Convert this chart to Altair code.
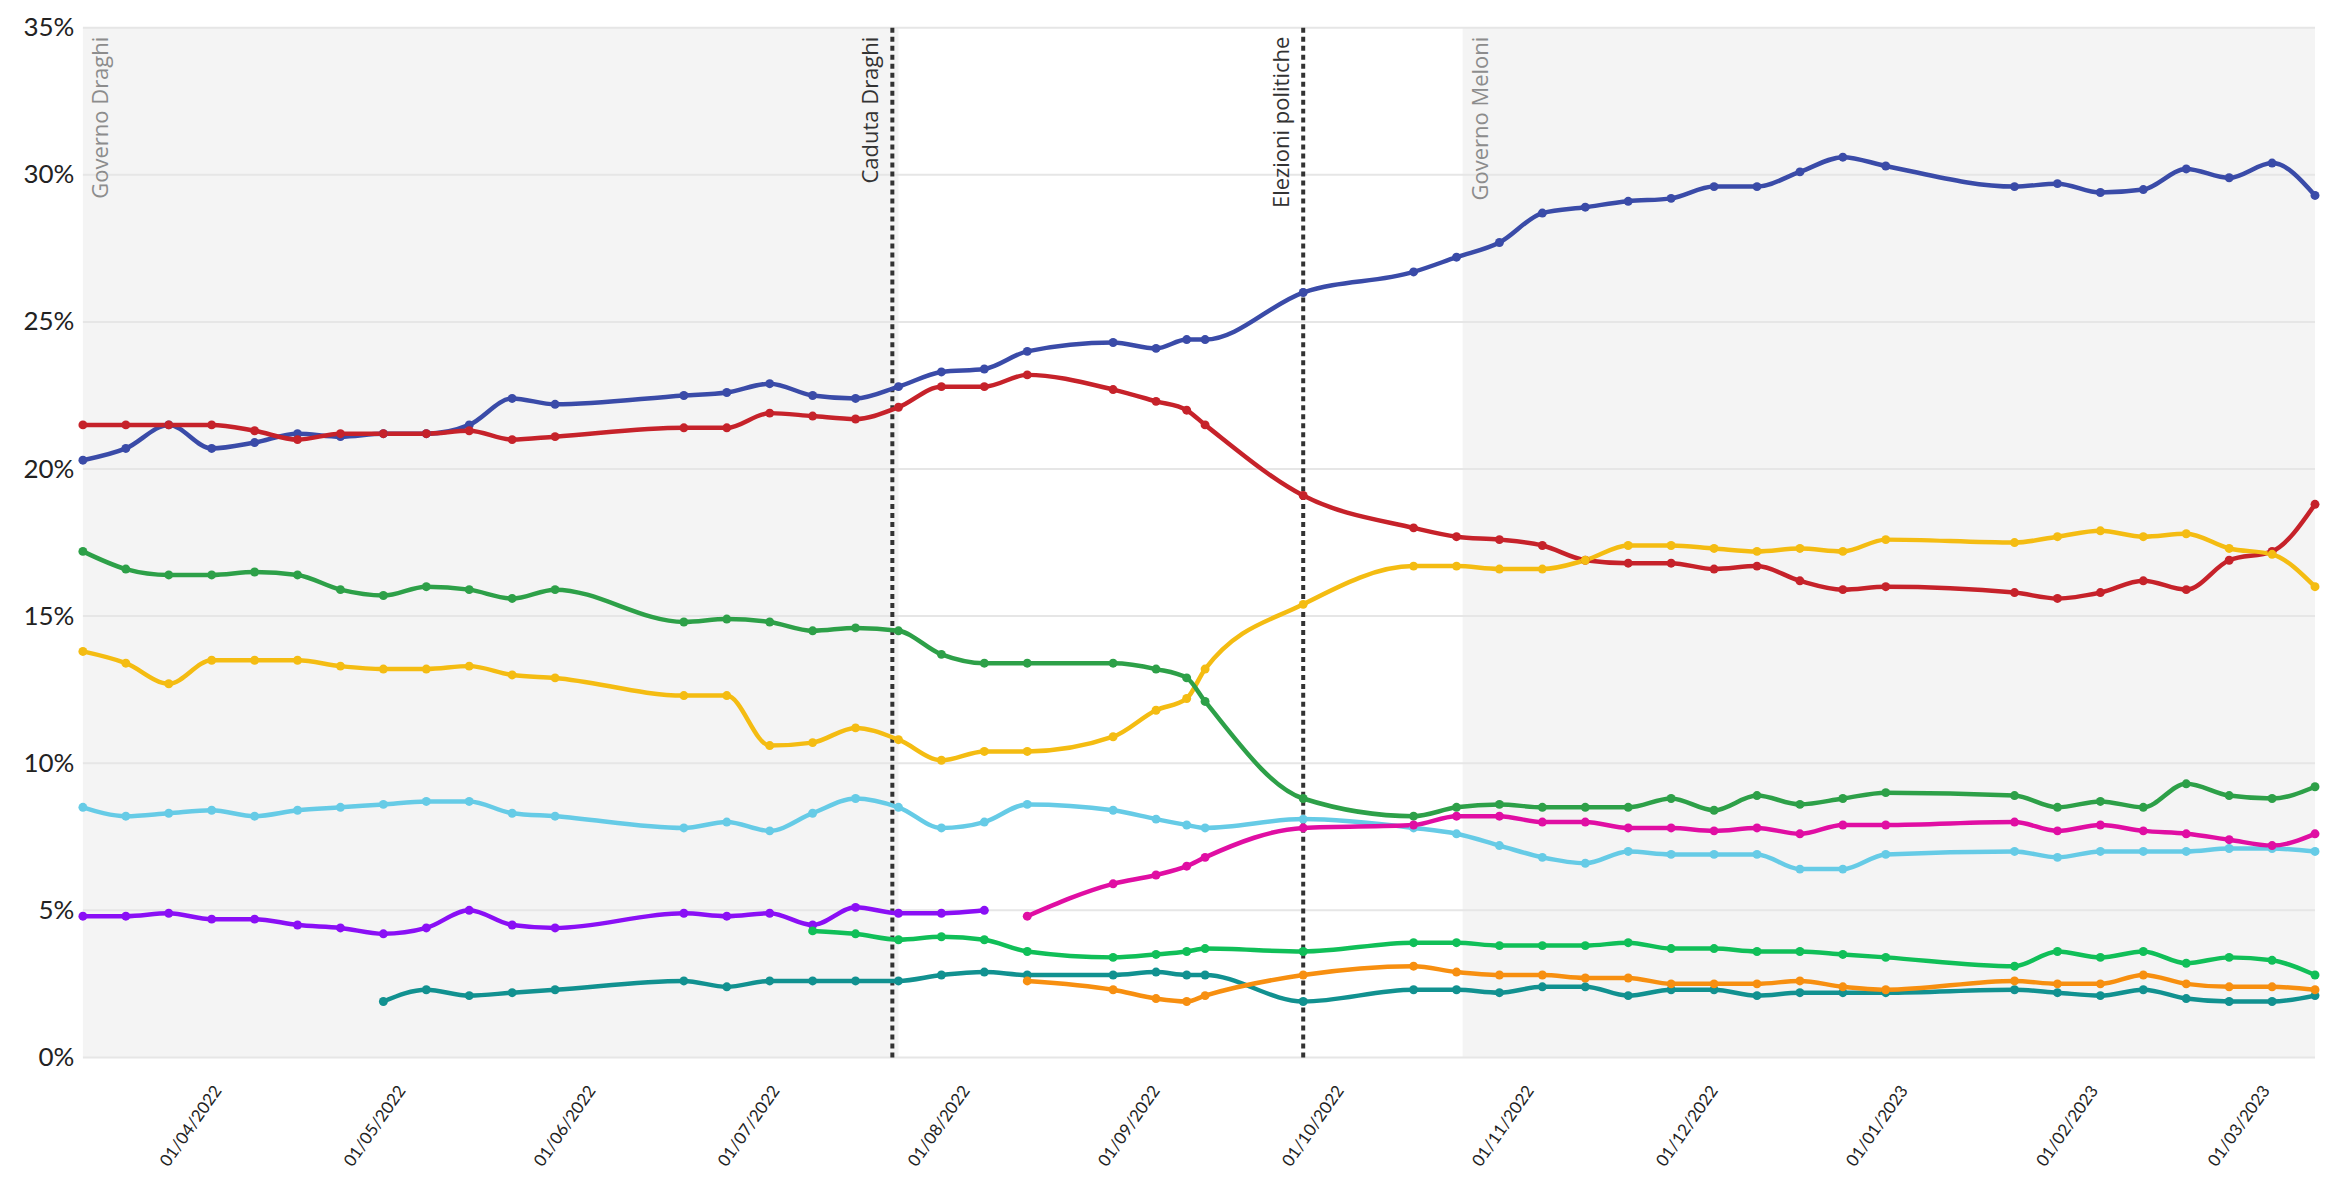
import altair as alt
import pandas as pd

# ---------------- data ----------------
dates = ["2022-03-10", "2022-03-17", "2022-03-24", "2022-03-31", "2022-04-07", "2022-04-14",
         "2022-04-21", "2022-04-28", "2022-05-05", "2022-05-12", "2022-05-19", "2022-05-26",
         "2022-06-16", "2022-06-23", "2022-06-30", "2022-07-07", "2022-07-14", "2022-07-21",
         "2022-07-28", "2022-08-04", "2022-08-11", "2022-08-25", "2022-09-01", "2022-09-06",
         "2022-09-09", "2022-09-25", "2022-10-13", "2022-10-20", "2022-10-27", "2022-11-03",
         "2022-11-10", "2022-11-17", "2022-11-24", "2022-12-01", "2022-12-08", "2022-12-15",
         "2022-12-22", "2022-12-29", "2023-01-19", "2023-01-26", "2023-02-02", "2023-02-09",
         "2023-02-16", "2023-02-23", "2023-03-02", "2023-03-09"]

fdi = [20.3, 20.7, 21.5, 20.7, 20.9, 21.2, 21.1, 21.2, 21.2, 21.5, 22.4, 22.2,
       22.5, 22.6, 22.9, 22.5, 22.4, 22.8, 23.3, 23.4, 24.0, 24.3, 24.1, 24.4,
       24.4, 26.0, 26.7, 27.2, 27.7, 28.7, 28.9, 29.1, 29.2, 29.6, 29.6, 30.1,
       30.6, 30.3, 29.6, 29.7, 29.4, 29.5, 30.2, 29.9, 30.4, 29.3]
pd_ = [21.5, 21.5, 21.5, 21.5, 21.3, 21.0, 21.2, 21.2, 21.2, 21.3, 21.0, 21.1,
       21.4, 21.4, 21.9, 21.8, 21.7, 22.1, 22.8, 22.8, 23.2, 22.7, 22.3, 22.0,
       21.5, 19.1, 18.0, 17.7, 17.6, 17.4, 16.9, 16.8, 16.8, 16.6, 16.7, 16.2,
       15.9, 16.0, 15.8, 15.6, 15.8, 16.2, 15.9, 16.9, 17.2, 18.8]
m5s = [13.8, 13.4, 12.7, 13.5, 13.5, 13.5, 13.3, 13.2, 13.2, 13.3, 13.0, 12.9,
       12.3, 12.3, 10.6, 10.7, 11.2, 10.8, 10.1, 10.4, 10.4, 10.9, 11.8, 12.2,
       13.2, 15.4, 16.7, 16.7, 16.6, 16.6, 16.9, 17.4, 17.4, 17.3, 17.2, 17.3,
       17.2, 17.6, 17.5, 17.7, 17.9, 17.7, 17.8, 17.3, 17.1, 16.0]
lega = [17.2, 16.6, 16.4, 16.4, 16.5, 16.4, 15.9, 15.7, 16.0, 15.9, 15.6, 15.9,
        14.8, 14.9, 14.8, 14.5, 14.6, 14.5, 13.7, 13.4, 13.4, 13.4, 13.2, 12.9,
        12.1, 8.8, 8.2, 8.5, 8.6, 8.5, 8.5, 8.5, 8.8, 8.4, 8.9, 8.6,
        8.8, 9.0, 8.9, 8.5, 8.7, 8.5, 9.3, 8.9, 8.8, 9.2]
fi = [8.5, 8.2, 8.3, 8.4, 8.2, 8.4, 8.5, 8.6, 8.7, 8.7, 8.3, 8.2,
      7.8, 8.0, 7.7, 8.3, 8.8, 8.5, 7.8, 8.0, 8.6, 8.4, 8.1, 7.9,
      7.8, 8.1, 7.8, 7.6, 7.2, 6.8, 6.6, 7.0, 6.9, 6.9, 6.9, 6.4,
      6.4, 6.9, 7.0, 6.8, 7.0, 7.0, 7.0, 7.1, 7.1, 7.0]
viola = [4.8, 4.8, 4.9, 4.7, 4.7, 4.5, 4.4, 4.2, 4.4, 5.0, 4.5, 4.4,
         4.9, 4.8, 4.9, 4.5, 5.1, 4.9, 4.9, 5.0] + [None] * 26
terzo_polo = [None] * 20 + [4.8, 5.9, 6.2, 6.5, 6.8, 7.8, 7.9, 8.2, 8.2, 8.0, 8.0, 7.8, 7.8,
                            7.7, 7.8, 7.6, 7.9, 7.9, 8.0, 7.7, 7.9, 7.7, 7.6, 7.4, 7.2, 7.6]
avs = [None] * 15 + [4.3, 4.2, 4.0, 4.1, 4.0, 3.6, 3.4, 3.5, 3.6, 3.7, 3.6, 3.9, 3.9, 3.8,
                     3.8, 3.8, 3.9, 3.7, 3.7, 3.6, 3.6, 3.5, 3.4, 3.1, 3.6, 3.4, 3.6, 3.2,
                     3.4, 3.3, 2.8]
italexit = [None] * 7 + [1.9, 2.3, 2.1, 2.2, 2.3, 2.6, 2.4, 2.6, 2.6, 2.6, 2.6, 2.8, 2.9,
                         2.8, 2.8, 2.9, 2.8, 2.8, 1.9, 2.3, 2.3, 2.2, 2.4, 2.4, 2.1, 2.3,
                         2.3, 2.1, 2.2, 2.2, 2.2, 2.3, 2.2, 2.1, 2.3, 2.0, 1.9, 1.9, 2.1]
piu_europa = [None] * 20 + [2.6, 2.3, 2.0, 1.9, 2.1, 2.8, 3.1, 2.9, 2.8, 2.8, 2.7, 2.7, 2.5,
                            2.5, 2.5, 2.6, 2.4, 2.3, 2.6, 2.5, 2.5, 2.8, 2.5, 2.4, 2.4, 2.3]

series_names = ["FdI", "PD", "M5S", "Lega", "FI", "Viola", "Terzo Polo", "AVS", "Italexit", "+Europa"]
series_values = [fdi, pd_, m5s, lega, fi, viola, terzo_polo, avs, italexit, piu_europa]
series_colors = ["#3a4ba8", "#c6222a", "#f4bc12", "#2da048", "#66cbe6",
                 "#8a0ff5", "#e00ea3", "#10bf58", "#119190", "#f78f10"]

band_labels = ["Governo Draghi", "Governo Meloni"]
band_start = ["2022-03-10", "2022-10-21"]
band_end = ["2022-07-21", "2023-03-09"]

event_labels = ["Caduta Draghi", "Elezioni politiche"]
event_dates = ["2022-07-20", "2022-09-25"]

y_ticks = [0, 5, 10, 15, 20, 25, 30, 35]
x_tick_months = [(2022, 4), (2022, 5), (2022, 6), (2022, 7), (2022, 8), (2022, 9),
                 (2022, 10), (2022, 11), (2022, 12), (2023, 1), (2023, 2), (2023, 3)]

# ---------------- tables ----------------
rows = []
for name, vals in zip(series_names, series_values):
    for d, v in zip(dates, vals):
        if v is not None:
            rows.append({"date": d, "serie": name, "value": v})
df = pd.DataFrame(rows)
bands_df = pd.DataFrame({"label": band_labels, "start": band_start, "end": band_end})
events_df = pd.DataFrame({"label": event_labels, "date": event_dates})
grid_df = pd.DataFrame({"value": y_ticks})

# ---------------- scales / axes ----------------
xscale = alt.Scale(type="utc", nice=False,
                   domain=[alt.DateTime(year=2022, month=3, date=10, utc=True),
                           alt.DateTime(year=2023, month=3, date=9, utc=True)])
xaxis = alt.Axis(values=[alt.DateTime(year=y, month=m, date=1, utc=True) for y, m in x_tick_months],
                 labelExpr="utcFormat(datum.value, '%d/%m/%Y')", labelAngle=-55, labelFontSize=17,
                 labelFont="Lato", labelColor="#222222", labelPadding=30, domain=False,
                 ticks=False, grid=False, title=None)
yscale = alt.Scale(domain=[0, 35], nice=False, zero=True)
yaxis = alt.Axis(values=y_ticks, labelExpr="datum.value + '%'", labelFontSize=26,
                 labelFont="Lato", labelColor="#222222", labelPadding=9, domain=False,
                 ticks=False, grid=False, title=None)


def X(field):
    return alt.X(f"{field}:T", scale=xscale, axis=xaxis, title=None)


def Y(field):
    return alt.Y(f"{field}:Q", scale=yscale, axis=yaxis, title=None)


color = alt.Color("serie:N", scale=alt.Scale(domain=series_names, range=series_colors), legend=None)

bands = alt.Chart(bands_df).mark_rect(color="#f4f4f4").encode(
    x=X("start"), x2="end:T")

grid = alt.Chart(grid_df).mark_rule(color="#e6e6e6", strokeWidth=2).encode(y=Y("value"))

vrules = alt.Chart(events_df).mark_rule(color="#333333", strokeWidth=4, strokeDash=[5, 4]).encode(
    x=X("date"))

lines = alt.Chart(df).mark_line(interpolate="monotone", strokeWidth=4.5).encode(
    x=X("date"), y=Y("value"), color=color, detail="serie:N")

points = alt.Chart(df).mark_circle(size=80, opacity=1).encode(
    x=X("date"), y=Y("value"), color=color)

band_text = alt.Chart(bands_df).mark_text(
    angle=270, align="right", baseline="top", dy=8, font="Open Sans", fontSize=22,
    color="#8c8c8c").encode(x=X("start"), y=alt.value(9), text="label:N")

event_text = alt.Chart(events_df).mark_text(
    angle=270, align="right", baseline="bottom", dy=-9, font="Open Sans", fontSize=22,
    color="#333333").encode(x=X("date"), y=alt.value(9), text="label:N")

chart = alt.layer(bands, grid, vrules, lines, points, band_text, event_text).properties(
    width=2235, height=1031,
    padding={"left": 75, "top": 19, "right": 10, "bottom": 122},
    autosize=alt.AutoSizeParams(type="none"),
    background="white",
).configure_view(stroke=None)

chart.save("out.html", embed_options={"renderer": "svg", "actions": False})
